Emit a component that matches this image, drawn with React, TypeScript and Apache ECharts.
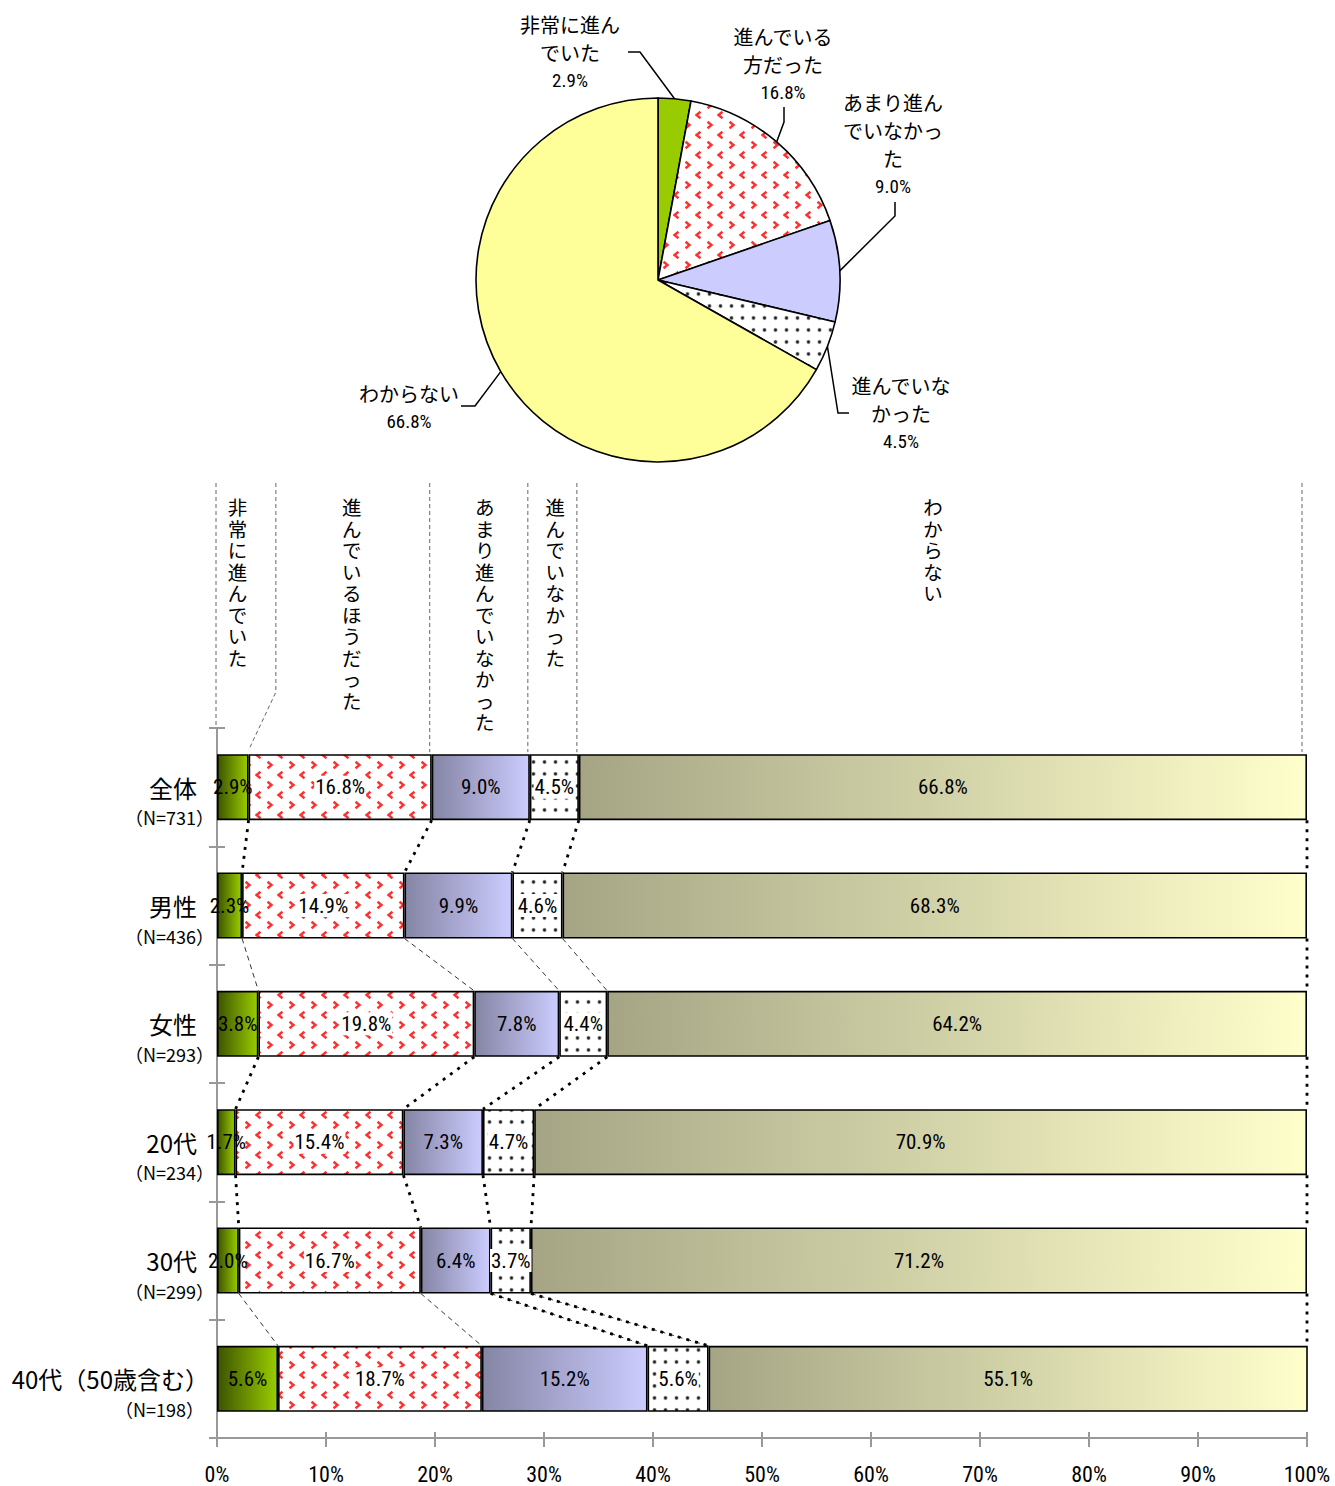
import React, { useEffect, useRef } from 'react';
import * as echarts from 'echarts';

// ---------- data ----------
const categories = ['全体', '男性', '女性', '20代', '30代', '40代（50歳含む）'];
const sampleSizes = ['（N=731）', '（N=436）', '（N=293）', '（N=234）', '（N=299）', '（N=198）'];
const seriesNames = ['非常に進んでいた', '進んでいるほうだった', 'あまり進んでいなかった', '進んでいなかった', 'わからない'];
const veryMuch = [2.9, 2.3, 3.8, 1.7, 2.0, 5.6];
const somewhat = [16.8, 14.9, 19.8, 15.4, 16.7, 18.7];
const notMuch = [9.0, 9.9, 7.8, 7.3, 6.4, 15.2];
const notAtAll = [4.5, 4.6, 4.4, 4.7, 3.7, 5.6];
const unknown = [66.8, 68.3, 64.2, 70.9, 71.2, 55.1];

const pieNames = ['非常に進ん\nでいた', '進んでいる\n方だった', 'あまり進ん\nでいなかっ\nた', '進んでいな\nかった', 'わからない'];
const pieValues = [2.9, 16.8, 9.0, 4.5, 66.8];

const xTickValues = [0, 10, 20, 30, 40, 50, 60, 70, 80, 90, 100];

// ---------- layout / style ----------
const JP = "'Noto Sans CJK JP', 'Noto Sans', sans-serif";
const NUM = "'Liberation Sans Narrow', 'Arial Narrow', 'Roboto Condensed', 'DejaVu Sans Condensed', 'Liberation Sans', sans-serif";
const BAR_W = 66;
const PIE_C = [658, 280];
const PIE_R = 182;
const HEADER_FIRST_BREAK = 5.4;
const headerTextOffsets = [-9, -2, 4, 1, -10];
// connector style per gap: 0 = thick dotted, 1 = thin dashed, 2 = both
const connectorStyles = [
  [0, 0, 0, 0, 0],
  [1, 1, 1, 1, 0],
  [0, 0, 0, 0, 0],
  [0, 0, 0, 0, 0],
  [1, 1, 2, 2, 0],
];
const pieLabelPos = [
  { x: 570, y: 52, p1: [640, 52], p2: [628, 52] },
  { x: 783, y: 64, p1: [784, 122], p2: [784, 107] },
  { x: 893, y: 144, p1: [895, 216], p2: [895, 202] },
  { x: 901, y: 413, p1: [838, 413], p2: [849, 413] },
  { x: 409, y: 407, p1: [475, 406], p2: [461, 406] },
];

function chevronPattern() {
  const w = 22, h = 20;
  const c = document.createElement('canvas');
  c.width = w;
  c.height = h;
  const g = c.getContext('2d')!;
  g.fillStyle = '#ffffff';
  g.fillRect(0, 0, w, h);
  g.strokeStyle = '#ff3030';
  g.lineWidth = 2.4;
  const chev = (cx: number, cy: number, dir: number) => {
    g.beginPath();
    g.moveTo(cx - 2 * dir, cy - 3.3);
    g.lineTo(cx + 2 * dir, cy);
    g.lineTo(cx - 2 * dir, cy + 3.3);
    g.stroke();
  };
  chev(5.5, 5, 1);
  chev(16.5, 15, -1);
  return { image: c.toDataURL(), repeat: 'repeat', imageWidth: w, imageHeight: h } as any;
}

function dotPattern() {
  const w = 11, h = 12;
  const c = document.createElement('canvas');
  c.width = w;
  c.height = h;
  const g = c.getContext('2d')!;
  g.fillStyle = '#ffffff';
  g.fillRect(0, 0, w, h);
  g.fillStyle = '#b0b0b0';
  g.beginPath();
  g.arc(5.5, 6, 2.2, 0, Math.PI * 2);
  g.fill();
  g.fillStyle = '#222222';
  g.beginPath();
  g.arc(5.5, 6, 1.4, 0, Math.PI * 2);
  g.fill();
  return { image: c.toDataURL(), repeat: 'repeat', imageWidth: w, imageHeight: h } as any;
}

const grad = (a: string, b: string) =>
  new echarts.graphic.LinearGradient(0, 0, 1, 0, [
    { offset: 0, color: a },
    { offset: 1, color: b },
  ]);

export default function App() {
  const ref = useRef<HTMLDivElement>(null);

  useEffect(() => {
    document.body.style.margin = '0';
    const chart = echarts.init(ref.current!, null, { renderer: 'svg' });

    const chev = chevronPattern();
    const dots = dotPattern();
    const barSets = [veryMuch, somewhat, notMuch, notAtAll, unknown];

    const cum = categories.map((_, r) => {
      const out = [0];
      let s = 0;
      barSets.forEach((set) => {
        s += set[r];
        out.push(Math.min(100, s));
      });
      return out;
    });

    const connectorData: number[][] = [];
    for (let g = 0; g < categories.length - 1; g++) {
      for (let k = 1; k <= 5; k++) {
        connectorData.push([cum[g][k], g, cum[g + 1][k], connectorStyles[g][k - 1]]);
      }
    }

    const headerBounds = [0, HEADER_FIRST_BREAK, cum[0][2], cum[0][3], cum[0][4], 100];
    const headerData = seriesNames.map((_, c) => [headerBounds[c], 0, headerBounds[c + 1], c]);

    const barStyles = [
      { color: grad('#3d5400', '#9acd00'), label: false },
      { color: chev, label: true },
      { color: grad('#8585a5', '#ccccff'), label: false },
      { color: dots, label: true },
      { color: grad('#a5a585', '#ffffcc'), label: false },
    ];

    const barSeries = barSets.map((set, i) => ({
      type: 'bar',
      name: seriesNames[i],
      stack: 'total',
      xAxisIndex: 0,
      yAxisIndex: 0,
      barWidth: BAR_W,
      data: set,
      itemStyle: { color: barStyles[i].color, borderColor: '#000', borderWidth: 1.6 },
      label: {
        show: true,
        position: 'inside',
        formatter: (p: any) => `${Number(p.value).toFixed(1)}%`,
        color: '#000',
        fontSize: 21,
        fontFamily: NUM,
        backgroundColor: barStyles[i].label ? '#ffffff' : 'transparent',
        padding: barStyles[i].label ? [1, 1] : 0,
      },
      emphasis: { disabled: true },
      z: 2,
    }));

    const pieAngle = (idx: number) => {
      let s = 0;
      for (let j = 0; j < idx; j++) s += pieValues[j];
      const total = pieValues.reduce((a, b) => a + b, 0);
      return ((s + pieValues[idx] / 2) / total) * Math.PI * 2;
    };

    const last = categories.length - 1;

    const option: any = {
      animation: false,
      backgroundColor: '#ffffff',
      grid: { left: 217, right: 28, top: 728, bottom: 48, containLabel: false },
      xAxis: [
        {
          type: 'value',
          min: xTickValues[0],
          max: xTickValues[xTickValues.length - 1],
          interval: 10,
          position: 'bottom',
          axisLine: { show: true, lineStyle: { color: '#999', width: 2 } },
          axisTick: { show: true, length: 9, lineStyle: { color: '#999', width: 2 } },
          axisLabel: { formatter: '{value}%', color: '#000', fontSize: 22, fontFamily: NUM, margin: 25 },
          splitLine: { show: false },
        },
        {
          type: 'value',
          min: xTickValues[0],
          max: xTickValues[xTickValues.length - 1],
          interval: 10,
          position: 'bottom',
          offset: 0,
          axisLine: { show: false },
          axisTick: { show: true, inside: true, length: 6, lineStyle: { color: '#999', width: 2 } },
          axisLabel: { show: false },
          splitLine: { show: false },
        },
      ],
      yAxis: [
        {
          type: 'category',
          data: categories,
          inverse: true,
          axisLine: { show: true, lineStyle: { color: '#999', width: 2 } },
          axisTick: { show: true, length: 8, lineStyle: { color: '#999', width: 2 } },
          axisLabel: {
            margin: 3,
            align: 'right',
            padding: [28, 0, 0, 0],
            formatter: (v: string, i: number) =>
              i === last ? `{c|${v}}\n{d|${sampleSizes[i]}}` : `{a|${v}}\n{b|${sampleSizes[i]}}`,
            rich: {
              a: { fontSize: 24, fontFamily: JP, color: '#000', lineHeight: 32, align: 'right', padding: [0, 17, 0, 0] },
              b: { fontSize: 18, fontFamily: JP, color: '#000', lineHeight: 28, align: 'right' },
              c: { fontSize: 24, fontFamily: JP, color: '#000', lineHeight: 32, align: 'right', padding: [0, 5, 0, 0] },
              d: { fontSize: 18, fontFamily: JP, color: '#000', lineHeight: 28, align: 'right', padding: [0, 10, 0, 0] },
            },
          },
        },
        {
          type: 'category',
          data: categories,
          inverse: true,
          position: 'left',
          offset: 0,
          axisLine: { show: false },
          axisTick: { show: true, inside: true, length: 8, lineStyle: { color: '#999', width: 2 } },
          axisLabel: { show: false },
        },
      ],
      series: [
        ...barSeries,
        {
          type: 'custom',
          name: 'connectors',
          xAxisIndex: 0,
          yAxisIndex: 0,
          clip: false,
          silent: true,
          z: 5,
          data: connectorData,
          renderItem: (params: any, api: any) => {
            const x0 = api.value(0);
            const r = api.value(1);
            const x1 = api.value(2);
            const st = api.value(3);
            const p0 = api.coord([x0, r]);
            const p1 = api.coord([x1, r + 1]);
            const y0 = p0[1] + BAR_W / 2;
            const y1 = p1[1] - BAR_W / 2;
            const children: any[] = [];
            if (st === 1 || st === 2) {
              children.push({
                type: 'line',
                shape: { x1: p0[0], y1: y0, x2: p1[0], y2: y1 },
                style: { stroke: '#000', lineWidth: 0.8, lineDash: [5, 4], fill: null },
              });
            }
            if (st === 0 || st === 2) {
              children.push({
                type: 'line',
                shape: { x1: p0[0], y1: y0, x2: p1[0], y2: y1 },
                style: { stroke: '#000', lineWidth: 2.8, lineDash: [3, 6], fill: null },
              });
            }
            return { type: 'group', children };
          },
        },
        {
          type: 'custom',
          name: 'header',
          xAxisIndex: 0,
          yAxisIndex: 0,
          clip: false,
          silent: true,
          z: 5,
          data: headerData,
          renderItem: (params: any, api: any) => {
            const s = api.value(0);
            const e = api.value(2);
            const c = api.value(3);
            const gridTop = params.coordSys.y;
            const lineTop = gridTop - 245;
            const ps = api.coord([s, 0]);
            const pe = api.coord([e, 0]);
            const barTop = ps[1] - BAR_W / 2;
            const dash = { stroke: '#666', lineWidth: 1, lineDash: [4, 3], fill: null };
            const children: any[] = [];
            if (c === 0) {
              children.push({ type: 'line', shape: { x1: ps[0] - 1, y1: lineTop, x2: ps[0] - 1, y2: gridTop }, style: dash });
            } else if (c === 1) {
              const pb = api.coord([cum[0][1], 0]);
              children.push({
                type: 'polyline',
                shape: { points: [[ps[0], lineTop], [ps[0], barTop - 62], [pb[0], barTop - 4]] },
                style: dash,
              });
            } else {
              children.push({ type: 'line', shape: { x1: ps[0] - 2, y1: lineTop, x2: ps[0] - 2, y2: barTop - 2 }, style: dash });
            }
            if (c === seriesNames.length - 1) {
              children.push({ type: 'line', shape: { x1: pe[0] - 5, y1: lineTop, x2: pe[0] - 5, y2: barTop - 2 }, style: dash });
            }
            children.push({
              type: 'text',
              style: {
                text: seriesNames[c].split('').join('\n'),
                x: (ps[0] + pe[0]) / 2 + headerTextOffsets[c],
                y: gridTop - 232,
                align: 'center',
                verticalAlign: 'top',
                fontSize: 19.5,
                fontFamily: JP,
                lineHeight: 21.5,
                fill: '#000',
              },
            });
            return { type: 'group', children };
          },
        },
        {
          type: 'pie',
          name: '全体',
          center: PIE_C,
          radius: PIE_R,
          startAngle: 90,
          clockwise: true,
          avoidLabelOverlap: false,
          silent: true,
          z: 3,
          itemStyle: { borderColor: '#000', borderWidth: 1.6 },
          data: pieValues.map((v, i) => ({
            name: seriesNames[i],
            value: v,
            itemStyle: { color: ['#99cc00', chev, '#ccccff', dots, '#ffff99'][i] },
          })),
          label: {
            show: true,
            color: '#000',
            formatter: (p: any) =>
              `{n|${pieNames[p.dataIndex].split('\n').join('}\n{n|')}}\n{v|${Number(p.value).toFixed(1)}%}`,
            rich: {
              n: { fontSize: 20, fontFamily: JP, lineHeight: 28, color: '#000', align: 'center' },
              v: { fontSize: 19, fontFamily: NUM, lineHeight: 28, color: '#000', align: 'center' },
            },
          },
          labelLine: { show: true, length: 8, length2: 8, lineStyle: { color: '#000', width: 1.5 } },
          labelLayout: (params: any) => {
            const i = params.dataIndex;
            const L = pieLabelPos[i];
            const a = pieAngle(i);
            const p0 = [PIE_C[0] + PIE_R * Math.sin(a), PIE_C[1] - PIE_R * Math.cos(a)];
            return {
              x: L.x,
              y: L.y,
              align: 'center',
              verticalAlign: 'middle',
              labelLinePoints: [p0, L.p1, L.p2],
            };
          },
        },
      ],
    };

    chart.setOption(option);
    return () => chart.dispose();
  }, []);

  return <div ref={ref} style={{ width: 1335, height: 1486 }} />;
}
